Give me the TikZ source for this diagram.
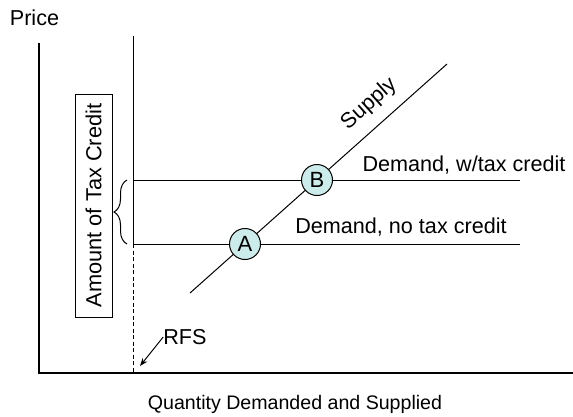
\documentclass[tikz,border=0pt]{standalone}
\usepackage{fontspec}
\setmainfont{Liberation Sans}
\usetikzlibrary{arrows.meta,decorations.pathreplacing}
\definecolor{circfill}{RGB}{204,236,236}
\begin{document}
\begin{tikzpicture}[x=1pt,y=-1pt,
  thinline/.style={line width=1pt, black},
  axisline/.style={line width=2pt, black},
  lbl/.style={inner sep=0pt, font=\fontsize{21.6}{26}\selectfont},
  pt/.style={circle, draw, line width=1pt, fill=circfill, minimum size=31pt, inner sep=0pt, font=\fontsize{22}{26}\selectfont}]
\useasboundingbox (0,0) rectangle (573,416);
% axes
\coordinate (ytop) at (39,43);
\coordinate (orig) at (39,372.5);
\coordinate (xend) at (573,372.5);
\draw[axisline] (ytop) -- (orig) -- (xend);
% RFS line
\coordinate (rtop) at (133,36);
\coordinate (rmid) at (133,244);
\coordinate (rbot) at (133,371.5);
\draw[thinline] (rtop) -- (rmid);
\draw[thinline, dash pattern=on 4pt off 2.5pt] (rmid) -- (rbot);
% demand lines
\coordinate (d1s) at (133,180);
\coordinate (d1e) at (520,180);
\coordinate (d2s) at (133,244);
\coordinate (d2e) at (520,244);
\draw[thinline] (d1s) -- (d1e);
\draw[thinline] (d2s) -- (d2e);
% supply
\coordinate (s1) at (190,293);
\coordinate (s2) at (447,64);
\draw[thinline] (s1) -- (s2);
% points
\node[pt] (A) at (245,244) {A};
\node[pt] (B) at (317,180) {B};
% brace
\coordinate (bb) at (127,244);
\coordinate (bt) at (127,180);
\draw[thinline, decorate, decoration={brace, amplitude=13pt}] (bb) -- (bt);
% tax credit box
\node[draw, thinline, rotate=90, minimum width=223pt, minimum height=37pt, inner sep=0pt, font=\fontsize{21.8}{26}\selectfont] (box) at (93.5,205.5) {Amount of Tax Credit};
% labels
\node[lbl] (price) at (34.5,18) {Price};
\node[lbl, rotate=41.7] (supply) at (369,104) {Supply};
\node[lbl] (dw) at (464,165) {Demand, w/tax credit};
\node[lbl] (dn) at (401,227) {Demand, no tax credit};
\node[lbl, font=\fontsize{19.6}{24}\selectfont] (qty) at (295,404) {Quantity Demanded and Supplied};
\node[lbl] (rfs) at (185,337) {RFS};
\coordinate (rfsarr) at (140,366);
\draw[thinline, -{Stealth[length=8pt,width=6pt]}] (rfs.west) -- (rfsarr);
\end{tikzpicture}
\end{document}
